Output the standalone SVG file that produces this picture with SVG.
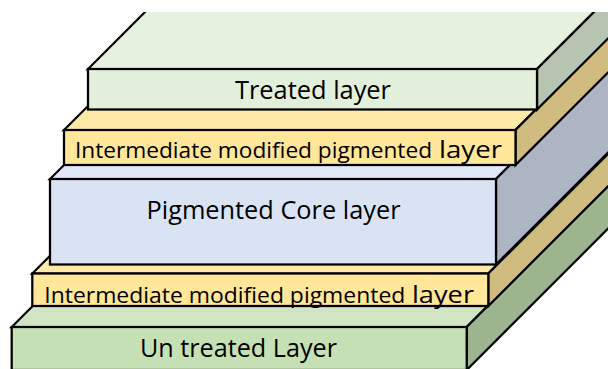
<svg xmlns="http://www.w3.org/2000/svg" width="608" height="369" viewBox="0 0 608 369">
<defs>
<clipPath id="clip"><rect x="0" y="12" width="608" height="357"/></clipPath>
<style>
.e{stroke:#000;stroke-width:2.25;stroke-linejoin:miter}
.t{font-family:"Open Sans","Liberation Sans",sans-serif;fill:#000}
.gT{fill:#e6f1df}.gF{fill:#e2efda}.gS{fill:#b7c4af}
.yT{fill:#ffe9a8}.yF{fill:#ffe699}.yS{fill:#cfbb7e}
.bT{fill:#e1e8f5}.bF{fill:#dae3f3}.bS{fill:#adb4c4}
.uT{fill:#d1e5c5}.uF{fill:#c5e0b4}.uS{fill:#9db58e}
</style>
</defs>
<rect width="608" height="369" fill="#fff"/>
<g clip-path="url(#clip)">
<g id="untreated-layer">
<polygon class="e uT" points="11.7,327 466.7,327 786.7,7 331.7,7"/>
<polygon class="e uS" points="466.7,327 466.7,370 786.7,50 786.7,7"/>
<rect class="e uF" x="11.7" y="327" width="455" height="43"/>
<text class="t" x="238.5" y="357" font-size="25" text-anchor="middle" textLength="197" lengthAdjust="spacingAndGlyphs">Un treated Layer</text>
</g>
<g id="intermediate-bottom">
<polygon class="e yT" points="32.3,273.5 488.3,273.5 808.3,-46.5 352.3,-46.5"/>
<polygon class="e yS" points="488.3,273.5 488.3,306 808.3,-14 808.3,-46.5"/>
<rect class="e yF" x="32.3" y="273.5" width="456" height="32.5"/>
<text class="t" x="44.3" y="303" font-size="22" textLength="361" lengthAdjust="spacingAndGlyphs">Intermediate modified pigmented</text>
<text class="t" x="412" y="303" font-size="24" textLength="62" lengthAdjust="spacingAndGlyphs">layer</text>
</g>
<g id="pigmented-core">
<polygon class="e bT" points="50,179 496,179 816,-141 370,-141"/>
<polygon class="e bS" points="496,179 496,264.5 816,-55.5 816,-141"/>
<rect class="e bF" x="50" y="179" width="446" height="85.5"/>
<text class="t" x="273.5" y="219" font-size="25" text-anchor="middle" textLength="254" lengthAdjust="spacingAndGlyphs">Pigmented Core layer</text>
</g>
<g id="intermediate-top">
<polygon class="e yT" points="64,130 515.5,130 835.5,-190 384,-190"/>
<polygon class="e yS" points="515.5,130 515.5,165 835.5,-155 835.5,-190"/>
<rect class="e yF" x="64" y="130" width="451.5" height="35"/>
<text class="t" x="75" y="158" font-size="22" textLength="357" lengthAdjust="spacingAndGlyphs">Intermediate modified pigmented</text>
<text class="t" x="439" y="158" font-size="24" textLength="63" lengthAdjust="spacingAndGlyphs">layer</text>
</g>
<g id="treated-layer">
<polygon class="e gT" points="88,69 537,69 857,-251 408,-251"/>
<polygon class="e gS" points="537,69 537,109.5 857,-210.5 857,-251"/>
<rect class="e gF" x="88" y="69" width="449" height="40.5"/>
<text class="t" x="313" y="99" font-size="25" text-anchor="middle" textLength="156" lengthAdjust="spacingAndGlyphs">Treated layer</text>
</g>
</g>
<g id="connectors"/>
</svg>
